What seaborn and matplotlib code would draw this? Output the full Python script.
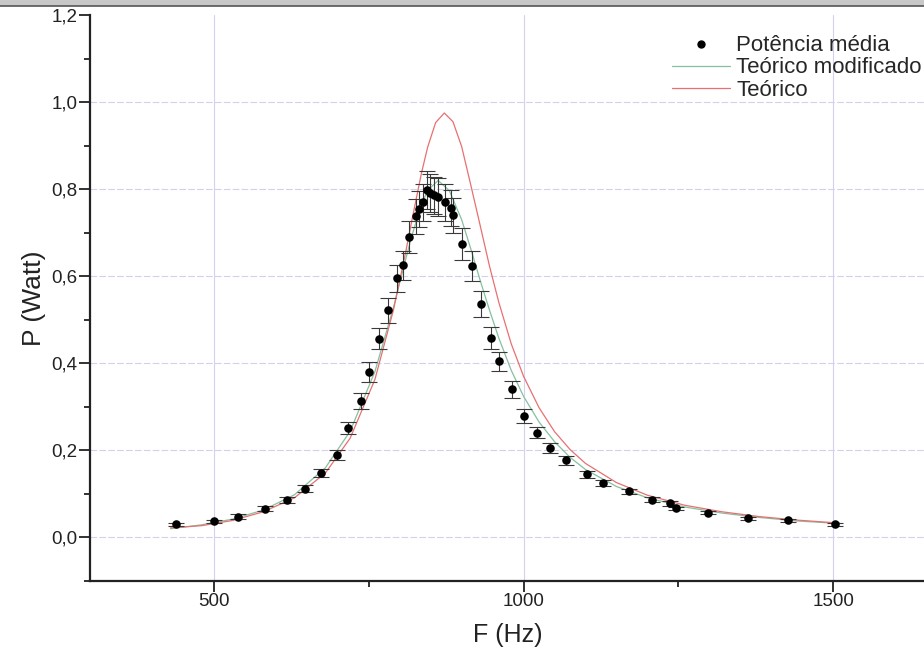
import matplotlib
matplotlib.use("Agg")
import matplotlib.pyplot as plt
import seaborn as sns
import pandas as pd
from matplotlib.ticker import FuncFormatter, MultipleLocator
from matplotlib.patches import Rectangle
from matplotlib.lines import Line2D

# ---- data ----
freq_meas = [439, 500, 539, 582, 618, 647, 673, 699, 716, 737, 750, 767, 781, 796, 805,
             815, 826, 831, 838, 844, 849, 855, 862, 873, 883, 886, 901, 917, 931, 948,
             960, 981, 1001, 1022, 1043, 1069, 1102, 1128, 1170, 1208, 1237, 1246, 1298,
             1363, 1427, 1503]
power_meas = [0.030, 0.037, 0.048, 0.066, 0.087, 0.112, 0.148, 0.189, 0.251, 0.313, 0.380,
              0.457, 0.522, 0.595, 0.625, 0.690, 0.738, 0.754, 0.770, 0.798, 0.791, 0.786,
              0.782, 0.770, 0.756, 0.740, 0.674, 0.623, 0.536, 0.458, 0.405, 0.340, 0.280,
              0.241, 0.205, 0.177, 0.145, 0.126, 0.106, 0.087, 0.078, 0.067, 0.057, 0.044,
              0.039, 0.030]
power_err = [0.004, 0.004, 0.005, 0.006, 0.007, 0.008, 0.009, 0.011, 0.014, 0.018, 0.022,
             0.025, 0.029, 0.032, 0.034, 0.037, 0.040, 0.041, 0.042, 0.044, 0.043, 0.043,
             0.043, 0.042, 0.041, 0.040, 0.037, 0.034, 0.030, 0.025, 0.022, 0.019, 0.016,
             0.013, 0.011, 0.010, 0.008, 0.007, 0.006, 0.005, 0.005, 0.004, 0.004, 0.004,
             0.004, 0.004]

freq_red = [430, 480, 530, 580, 630, 680, 720, 760, 790, 810, 820, 835, 845, 858, 872, 886,
            900, 915, 930, 945, 960, 980, 1000, 1025, 1050, 1075, 1100, 1150, 1200, 1260,
            1320, 1380, 1440, 1510]
power_red = [0.022, 0.027, 0.039, 0.059, 0.091, 0.148, 0.228, 0.363, 0.523, 0.658, 0.731,
             0.836, 0.896, 0.953, 0.975, 0.955, 0.898, 0.808, 0.716, 0.623, 0.540, 0.445,
             0.370, 0.298, 0.243, 0.202, 0.170, 0.126, 0.097, 0.074, 0.059, 0.048, 0.040,
             0.033]

freq_green = [430, 480, 530, 580, 630, 680, 720, 760, 790, 810, 820, 835, 845, 862, 880,
              900, 915, 930, 945, 960, 980, 1000, 1025, 1050, 1075, 1100, 1150, 1200, 1260,
              1320, 1380, 1440, 1510]
power_green = [0.020, 0.029, 0.042, 0.063, 0.098, 0.160, 0.244, 0.381, 0.529, 0.641, 0.695,
               0.764, 0.797, 0.820, 0.797, 0.730, 0.662, 0.590, 0.522, 0.458, 0.384, 0.324,
               0.265, 0.220, 0.184, 0.156, 0.117, 0.091, 0.070, 0.056, 0.046, 0.038, 0.032]

x_ticks = [500, 1000, 1500]
y_ticks = [0.0, 0.2, 0.4, 0.6, 0.8, 1.0, 1.2]

df_meas = pd.DataFrame({"F": freq_meas, "P": power_meas, "err": power_err})
df_red = pd.DataFrame({"F": freq_red, "P": power_red})
df_green = pd.DataFrame({"F": freq_green, "P": power_green})

sns.set_style("white")
plt.rcParams["font.family"] = ["Liberation Sans", "DejaVu Sans"]

fig = plt.figure(figsize=(9.24, 6.49), dpi=100)
ax = fig.add_axes([0.0974, 0.1048, 0.905, 0.872])

grid_col = "#d2d2ee"
ax.set_xticks(x_ticks)
ax.set_yticks(y_ticks)
for xv in x_ticks:
    ax.axvline(xv, color=grid_col, lw=0.8, zorder=0)
for yv in y_ticks[:-1]:
    ax.axhline(yv, color=grid_col, lw=0.8, ls=(0, (6, 2)), zorder=0)

green = "#86c0a0"
red = "#e87070"
sns.lineplot(data=df_green, x="F", y="P", ax=ax, color=green, lw=0.9,
             sort=False, zorder=2)
sns.lineplot(data=df_red, x="F", y="P", ax=ax, color=red, lw=0.9,
             sort=False, zorder=2)
ax.errorbar(df_meas["F"], df_meas["P"], yerr=df_meas["err"], fmt="none",
            ecolor="#3a3a3a", elinewidth=0.8, capsize=6, capthick=0.8, zorder=3)
sns.scatterplot(data=df_meas, x="F", y="P", ax=ax, color="black", s=38,
                edgecolor="black", linewidth=0, zorder=4)

ax.set_xlim(300, 1650)
ax.set_ylim(-0.1, 1.2)
ax.xaxis.set_minor_locator(MultipleLocator(250))
ax.yaxis.set_minor_locator(MultipleLocator(0.1))
ax.yaxis.set_major_formatter(FuncFormatter(lambda v, p: f"{v:.1f}".replace(".", ",")))

for s in ["top", "right"]:
    ax.spines[s].set_visible(False)
for s in ["left", "bottom"]:
    ax.spines[s].set_color("#222222")
    ax.spines[s].set_linewidth(1.6)

ax.tick_params(axis="both", which="major", direction="out", length=8, width=1.3,
               color="#222222", labelsize=13.5, labelcolor="#222222", pad=1)
ax.tick_params(axis="both", which="minor", direction="out", length=4, width=1.3,
               color="#222222")
ax.tick_params(axis="both", which="both", left=True, bottom=True)

ax.set_xlabel("F (Hz)", fontsize=18, color="#222222", labelpad=9)
ax.set_ylabel("P (Watt)", fontsize=19, color="#222222", labelpad=4)

handles = [
    Line2D([], [], marker="o", color="black", ls="none", markersize=5),
    Line2D([], [], color=green, lw=0.9),
    Line2D([], [], color=red, lw=0.9),
]
labels = ["Potência média", "Teórico modificado", "Teórico"]
ax.legend(handles, labels, loc="upper right", bbox_to_anchor=(1.0, 0.972),
          frameon=False, fontsize=16, handlelength=2.6, handletextpad=0.3,
          labelspacing=0.05, borderaxespad=0.0, borderpad=0.2)

# gray banner at the top of the image
fig.patches.append(Rectangle((0, 1 - 6 / 649), 1, 6 / 649, transform=fig.transFigure,
                             facecolor="#c8c8c8", edgecolor="none", zorder=10))
fig.lines.append(Line2D([0, 1], [1 - 6 / 649, 1 - 6 / 649], transform=fig.transFigure,
                        color="#555555", lw=1.2, zorder=11))

fig.savefig("out.png", dpi=100)
